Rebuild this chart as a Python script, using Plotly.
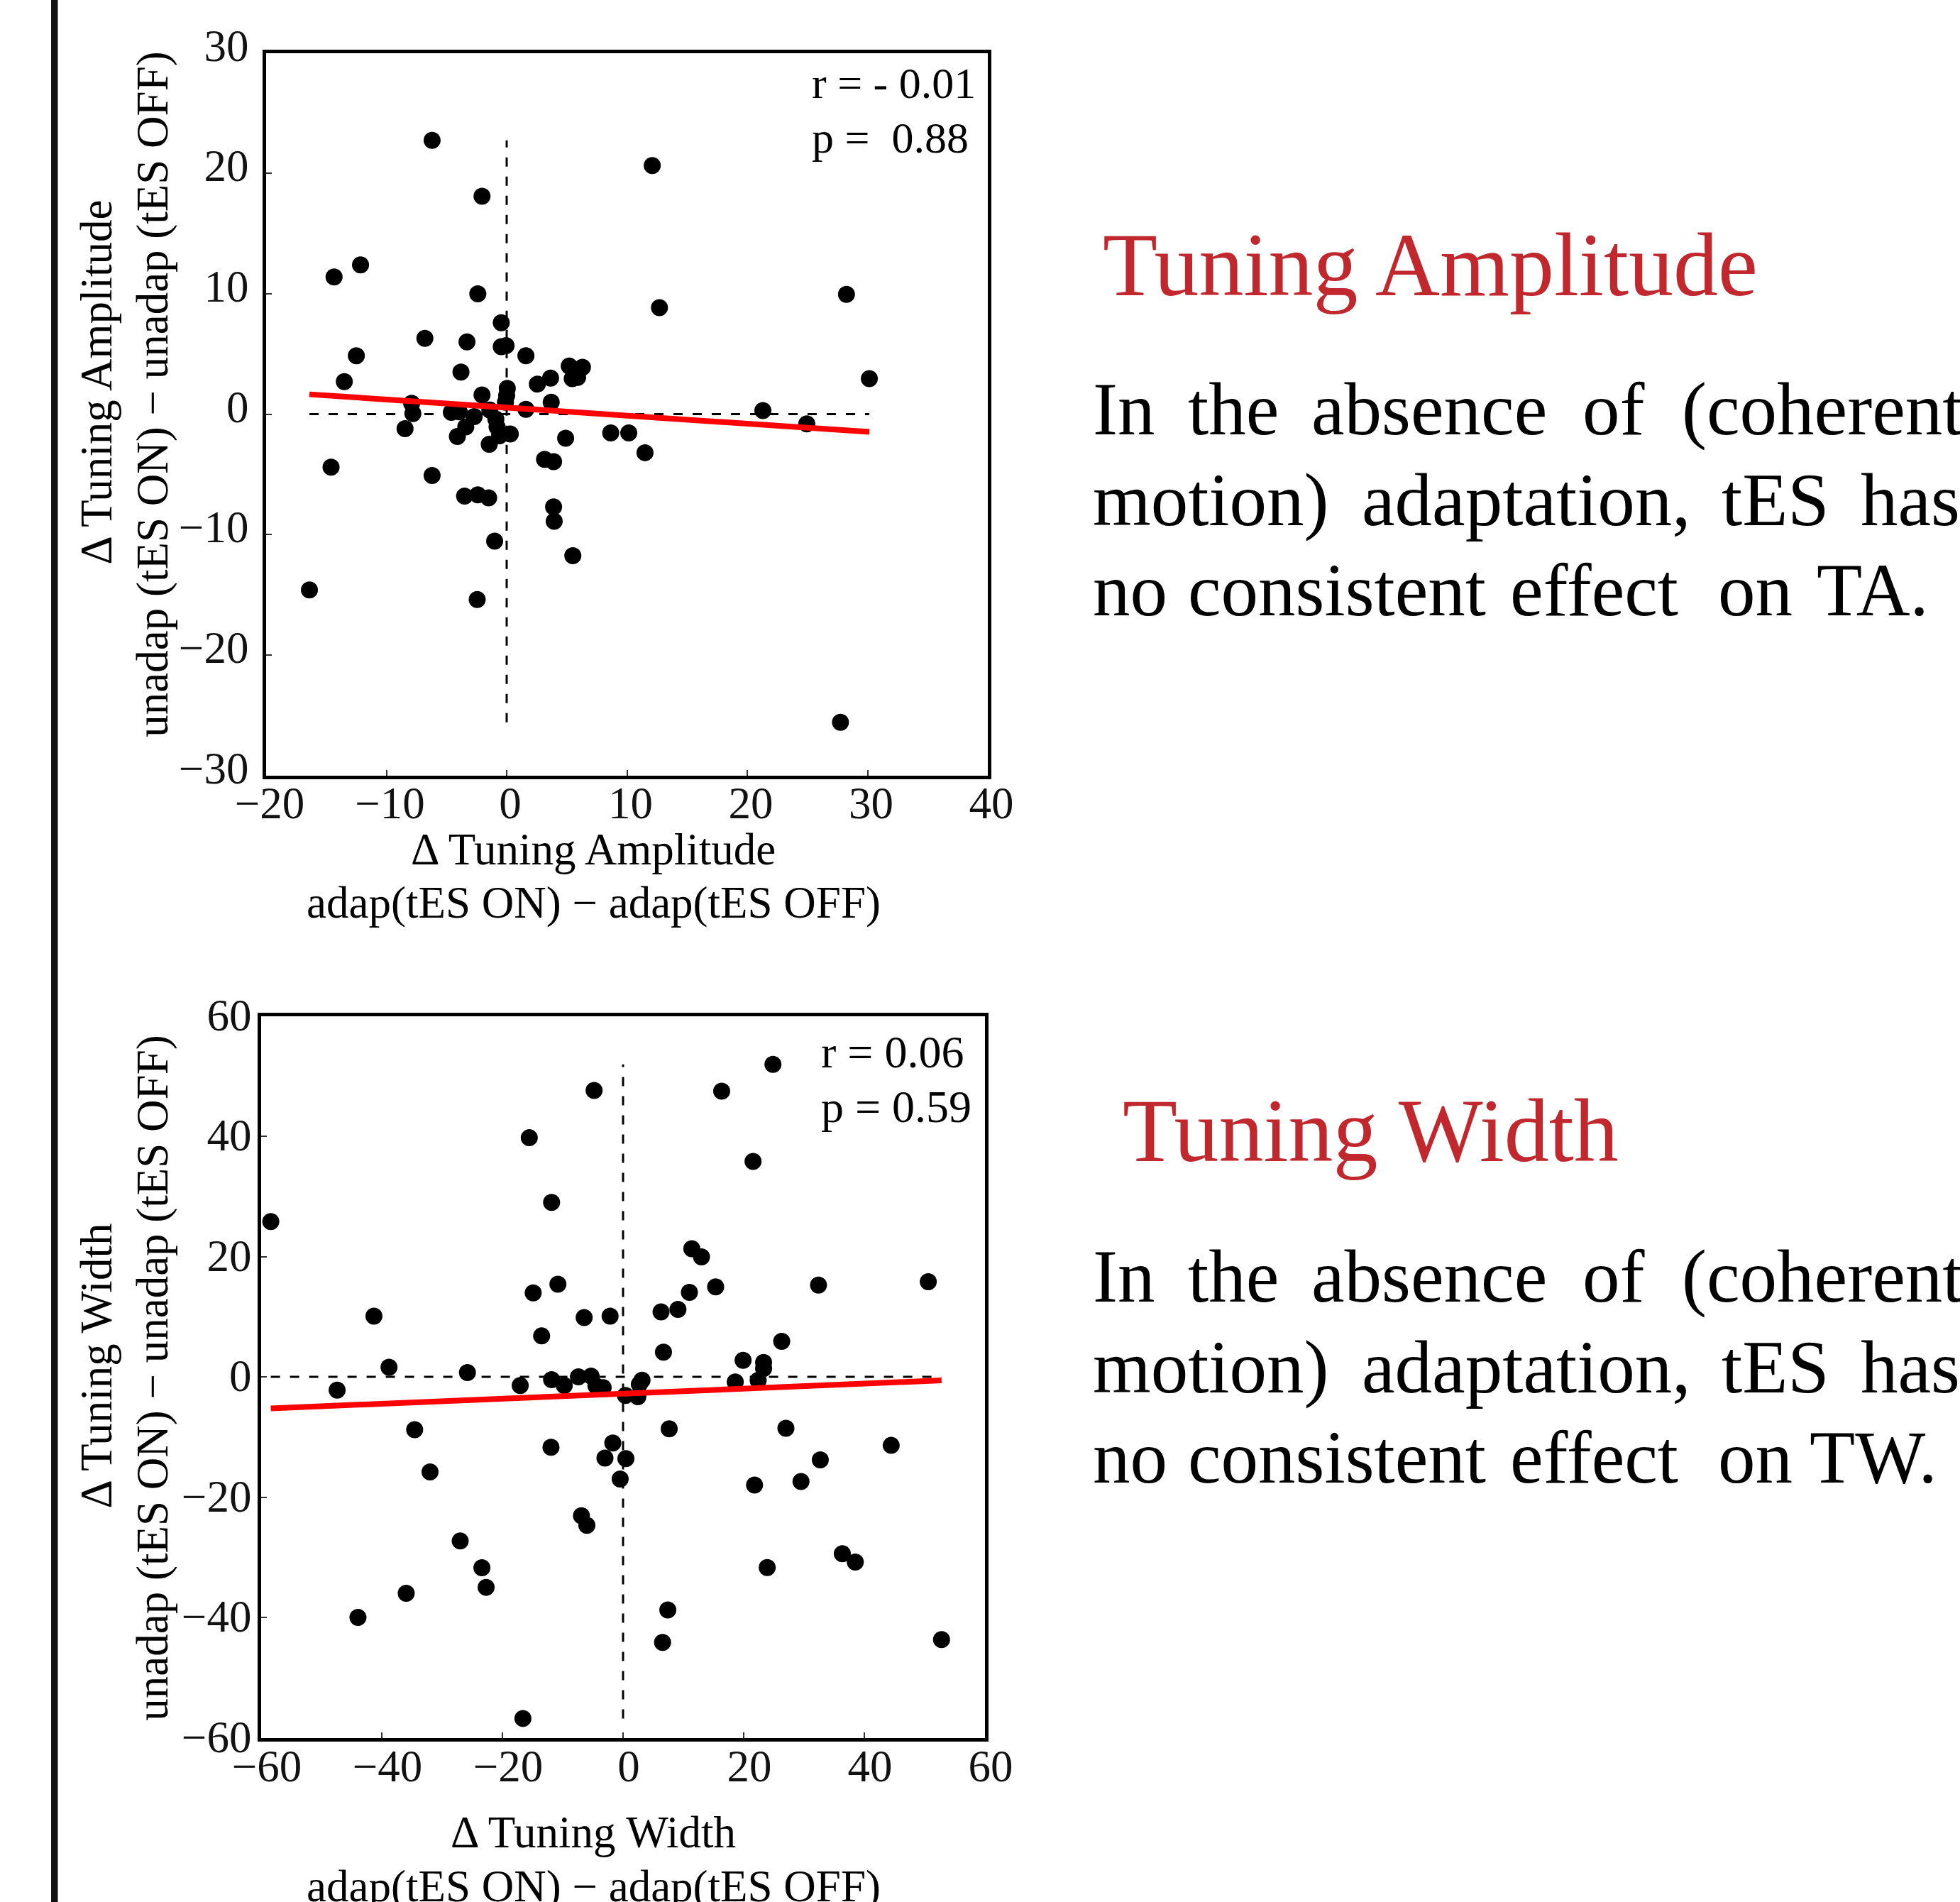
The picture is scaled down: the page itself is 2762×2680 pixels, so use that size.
import plotly.graph_objects as go

W, H = 2762, 2680
FONT = "Liberation Serif, Times New Roman, serif"

# ---------------- Top panel: Δ Tuning Amplitude ----------------
ta_x = [-16.4, -14.6, -14.35, -13.5, -12.5, -12.15, -8.45, -7.9, -7.8, -6.8,
        -6.2, -6.2, -4.6, -4.1, -3.95, -3.8, -3.5, -3.4, -3.3, -2.7,
        -2.45, -2.4, -2.4, -2.05, -2.05, -1.5, -1.45, -1.4, -1.0, -0.9,
        -0.8, -0.6, -0.45, -0.45, -0.05, -0.1, 0.0, 0.05, 0.3, 1.6,
        1.6, 2.55, 3.15, 3.65, 3.7, 3.9, 3.9, 3.95, 4.9, 5.2,
        5.45, 5.5, 5.9, 6.3, 8.65, 10.15, 11.5, 12.1, 12.7, 21.3,
        24.95, 27.75, 28.25, 30.15]
ta_y = [-14.6, -4.4, 11.4, 2.7, 4.85, 12.4, -1.2, 0.9, 0.05, 6.3,
        22.75, -5.1, 0.15, -1.85, 0.2, 3.5, -6.8, -1.05, 6.0, -0.2,
        -15.4, 10.0, -6.7, 18.1, 1.6, -6.95, -2.5, 0.35, -10.55, -0.4,
        -1.05, -1.8, 7.6, 5.6, 5.7, 1.0, 1.55, 2.15, -1.65, 4.85,
        0.4, 2.5, -3.75, 3.0, 1.0, -3.95, -7.7, -8.9, -2.0, 4.0,
        2.95, -11.75, 3.05, 3.9, -1.55, -1.55, -3.2, 20.65, 8.85, 0.3,
        -0.8, -25.6, 9.95, 2.95]
ta_fit = {"slope": -0.067, "intercept": 0.55}
ta_stats = ["r = - 0.01", "p =\u00a0 0.88"]
ta_xticks = [-20, -10, 0, 10, 20, 30, 40]
ta_yticks = [-30, -20, -10, 0, 10, 20, 30]

# ---------------- Bottom panel: Δ Tuning Width ----------------
tw_x = [-58.4, -47.4, -43.95, -41.3, -38.8, -35.95, -34.55, -32.0, -27.0, -25.8,
        -23.4, -22.7, -17.05, -16.6, -15.55, -14.9, -13.5, -11.95, -11.85, -10.8,
        -11.85, -9.75, -7.4, -6.9, -6.0, -6.45, -5.3, -4.8, -4.5, -3.3,
        -3.0, -2.15, -1.7, -0.48, 0.4, 0.47, 2.45, 2.7, 3.15, 6.3,
        6.55, 6.7, 7.42, 7.65, 9.1, 11.0, 11.4, 13.0, 15.35, 16.35,
        18.6, 19.9, 21.55, 21.8, 22.4, 23.3, 23.3, 23.9, 24.85, 26.3,
        27.0, 29.5, 32.4, 32.7, 36.35, 38.5, 44.45, 50.6, 52.8]
tw_y = [25.8, -2.2, -40.0, 10.1, 1.6, -36.0, -8.8, -15.8, -27.3, 0.7,
        -31.75, -35.0, -1.45, -56.8, 39.75, 13.95, 6.8, -11.7, 29.0, 15.4,
        -0.47, -1.45, 0.0, -23.1, -24.7, 9.85, 0.13, 47.6, -1.5, -1.8,
        -13.5, 10.1, -11.0, -17.0, -3.1, -13.6, -3.3, -1.25, -0.55, 10.8,
        -44.15, 4.1, -38.75, -8.65, 11.2, 14.05, 21.3, 19.95, 14.95, 47.5,
        -0.85, 2.75, 35.8, -18.0, -0.6, 2.4, 1.4, -31.7, 51.95, 5.9,
        -8.55, -17.4, 15.25, -13.8, -29.4, -30.8, -11.4, 15.8, -43.7]
tw_fit = {"slope": 0.0418, "intercept": -2.8}
tw_stats = ["r = 0.06", "p = 0.59"]
tw_xticks = [-60, -40, -20, 0, 20, 40, 60]
tw_yticks = [-60, -40, -20, 0, 20, 40, 60]

assert len(ta_x) == len(ta_y) and len(tw_x) == len(tw_y)

# ---------------- Text ----------------
ta_title = "Tuning Amplitude"
tw_title = "Tuning Width"
body_lines_ta = [["In", "the", "absence", "of", "(coherent"],
                 ["motion)", "adaptation,", "tES", "has"],
                 ["no", "consistent", "effect", "on", "TA."]]
body_lines_tw = [["In", "the", "absence", "of", "(coherent"],
                 ["motion)", "adaptation,", "tES", "has"],
                 ["no", "consistent", "effect", "on", "TW."]]
word_x = [[1538, 1672, 1846, 2228, 2368],
          [1538, 1917, 2424, 2620],
          [1538, 1672, 2126, 2419, 2558]]
word_x_tw_last = [1538, 1672, 2126, 2419, 2548]

fig = go.Figure()


def px_x(p):
    return p / W


def px_y(p):
    return 1 - p / H


def add_panel(xs, ys, fit, xa, ya):
    xmin, xmax = min(xs), max(xs)
    ymin, ymax = min(ys), max(ys)
    dash = dict(color="black", width=3, dash="13px,14px")
    fig.add_trace(go.Scatter(x=[0, 0], y=[ymin, ymax], mode="lines", line=dash,
                             xaxis=xa, yaxis=ya, showlegend=False, hoverinfo="skip"))
    fig.add_trace(go.Scatter(x=[xmin, xmax], y=[0, 0], mode="lines", line=dash,
                             xaxis=xa, yaxis=ya, showlegend=False, hoverinfo="skip"))
    fig.add_trace(go.Scatter(x=xs, y=ys, mode="markers",
                             marker=dict(size=24, color="black", line=dict(width=0)),
                             xaxis=xa, yaxis=ya, showlegend=False))
    fx = [xmin, xmax]
    fy = [fit["intercept"] + fit["slope"] * v for v in fx]
    fig.add_trace(go.Scatter(x=fx, y=fy, mode="lines",
                             line=dict(color="#ff0000", width=8),
                             xaxis=xa, yaxis=ya, showlegend=False, hoverinfo="skip"))


add_panel(ta_x, ta_y, ta_fit, "x", "y")
add_panel(tw_x, tw_y, tw_fit, "x2", "y2")

tickfont = dict(family=FONT, size=63, color="#111")
common = dict(showgrid=False, zeroline=False, showline=True, linewidth=5,
              linecolor="black", mirror=True, ticks="inside", ticklen=8,
              tickwidth=2, tickcolor="#333", tickfont=tickfont, automargin=False)

fig.update_layout(
    width=W, height=H, autosize=False,
    margin=dict(l=0, r=0, t=0, b=0, pad=0, autoexpand=False),
    paper_bgcolor="white", plot_bgcolor="white",
    xaxis=dict(domain=[px_x(375), px_x(1392)], range=[-20, 40], tickvals=ta_xticks,
               anchor="y", ticklabelstandoff=-20, ticklabelshift=5, **common),
    yaxis=dict(domain=[px_y(1092.5), px_y(74.7)], range=[-30, 30], tickvals=ta_yticks,
               anchor="x", ticklabelstandoff=7, ticklabelshift=-11, **common),
    xaxis2=dict(domain=[px_x(368), px_x(1388)], range=[-60, 60], tickvals=tw_xticks,
                anchor="y2", ticklabelstandoff=-19, ticklabelshift=8, **common),
    yaxis2=dict(domain=[px_y(2448.5), px_y(1431.5)], range=[-60, 60], tickvals=tw_yticks,
                anchor="x2", ticklabelstandoff=-4, ticklabelshift=-2, **common),
)

ann = []


def text_at(text, x, baseline, size, color="black", xanchor="left"):
    ann.append(dict(text=text, xref="paper", yref="paper", x=px_x(x),
                    y=px_y(baseline - 0.3375 * size), xanchor=xanchor, yanchor="middle",
                    showarrow=False, font=dict(family=FONT, size=size, color=color)))


def vtext_at(text, baseline_x, center_y, size):
    ann.append(dict(text=text, xref="paper", yref="paper", x=px_x(baseline_x - 0.3375 * size),
                    y=px_y(center_y), xanchor="center", yanchor="middle", textangle=-90,
                    showarrow=False, font=dict(family=FONT, size=size, color="black")))


# axis titles
text_at("\u0394 Tuning Amplitude", 836, 1218, 63, xanchor="center")
text_at("adap(tES ON) \u2212 adap(tES OFF)", 836, 1293, 63, xanchor="center")
vtext_at("\u0394 Tuning Amplitude", 157, 539, 63)
vtext_at("unadap (tES ON) \u2212 unadap (tES OFF)", 236, 556, 63)

text_at("\u0394 Tuning Width", 836, 2603, 63, xanchor="center")
text_at("adap(tES ON) \u2212 adap(tES OFF)", 836, 2679, 63, xanchor="center")
vtext_at("\u0394 Tuning Width", 157, 1925, 63)
vtext_at("unadap (tES ON) \u2212 unadap (tES OFF)", 236, 1942, 63)

# stats
text_at(ta_stats[0], 1142, 137.6, 62)
text_at(ta_stats[1], 1142, 214.7, 62)
text_at(tw_stats[0], 1155, 1504, 64)
text_at(tw_stats[1], 1155, 1581, 64)

# right-hand text
RED = "#c0282d"
text_at(ta_title, 1552, 416, 126, color=RED)
text_at(tw_title, 1580, 1636, 126, color=RED)
for block, base0, last in ((body_lines_ta, 612, word_x[2]), (body_lines_tw, 1834, word_x_tw_last)):
    for li, words in enumerate(block):
        xs = word_x[li] if li < 2 else last
        for w, xw in zip(words, xs):
            text_at(w, xw, base0 + 127.5 * li, 105)

fig.update_layout(annotations=ann)

fig.add_shape(type="rect", xref="paper", yref="paper", x0=px_x(72), x1=px_x(81.5),
              y0=0, y1=1, fillcolor="#111", line=dict(width=0), layer="above")

fig.write_html("out.html")
